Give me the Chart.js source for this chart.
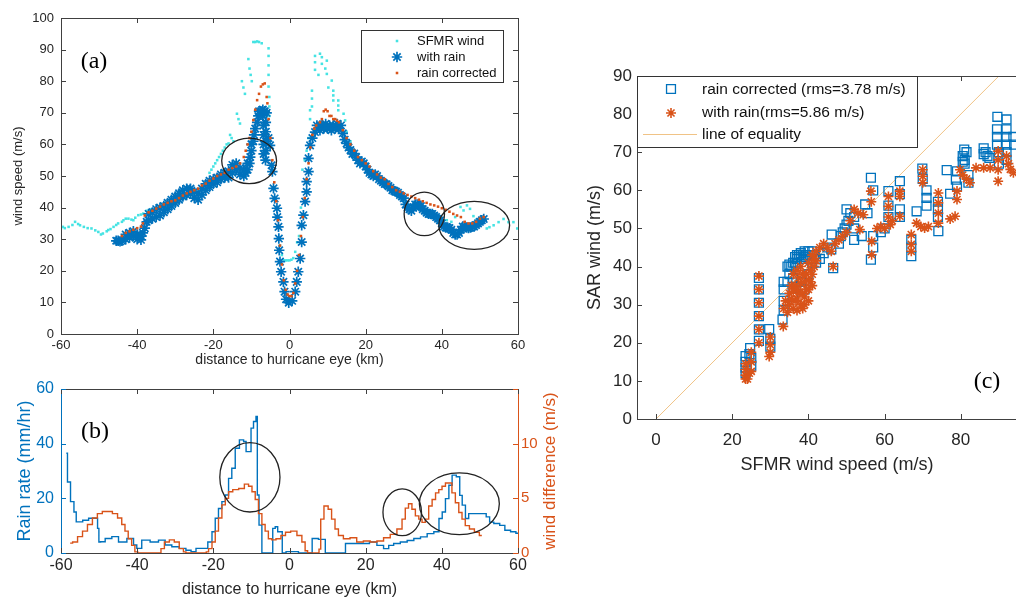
<!DOCTYPE html>
<html>
<head>
<meta charset="utf-8">
<title>SAR wind in rain</title>
<script src="https://cdn.jsdelivr.net/npm/chart.js@4.4.1/dist/chart.umd.min.js"></script>
<style>
  body { margin: 0; width: 1016px; height: 604px; overflow: hidden; background: #fff; position: relative; }
  canvas { position: absolute; }
</style>
</head>
<body>
<canvas id="chartA" width="530" height="370" style="left:0;top:0"></canvas>
<canvas id="chartB" width="565" height="234" style="left:0;top:370px"></canvas>
<canvas id="chartC" width="490" height="420" style="left:580px;top:60px"></canvas>
<script>
// ---- panel (a): wind speed along the track, [km, m/s]
var sfmrWind = [[-60,33.5],[-59.5,33.9],[-59,33.5],[-58,33.9],[-57,34.5],[-56.3,35.5],[-55.5,34.8],[-55,34.4],[-54,33.9],[-53,33.5],[-52,33.4],[-51,32.8],[-50.2,32.3],[-49.5,31.5],[-49,31.8],[-48,32.5],[-47.6,32.9],[-47,33.2],[-46.2,33.9],[-45.5,34.5],[-45,35],[-44,35.5],[-43.6,36],[-43,36.5],[-42.3,36.5],[-41.5,36.2],[-41,36],[-40.5,36.8],[-39.7,37.6],[-39,37.8],[-38.4,38.1],[-37.5,39],[-36.5,39.5],[-35,40],[-34,40.5],[-33,41],[-32,41.3],[-31,41.5],[-30,42],[-29,42.5],[-28,43],[-27,43.5],[-26,44],[-25,44.5],[-24,45],[-23,46.5],[-22,48],[-21,51],[-20.5,52],[-20,53],[-19.5,54],[-19,55],[-18.5,56],[-18,57],[-17.5,58],[-17,59],[-16.5,60],[-16,60.3],[-15.6,63],[-15.2,62],[-14.7,61],[-13.8,69.7],[-13.4,68],[-13,66.6],[-12.5,80],[-12.1,78],[-11.7,76],[-10.8,87],[-10.5,84],[-10.2,82],[-9.9,80],[-9.5,92.4],[-9,92.4],[-8.5,92.6],[-8,92.4],[-7.3,92],[-5.5,90.4],[-5.5,88],[-5.5,85],[-5.5,82],[-5.5,78.3],[-5.3,75],[-5.3,72],[-5.3,69],[-5,60],[-4.5,52],[-4,46],[-3.5,40],[-3,34],[-2.5,28],[-2,25],[-1.5,23.3],[-1,23.3],[-0.5,23.3],[0,23.3],[0.5,23.5],[1,24],[1.5,26],[2,29],[2.5,31],[3,40],[3.4,52],[4,55],[4.5,58],[5,62],[5.4,68],[5.4,70.8],[5.9,72],[5.9,74.5],[5.9,77],[6.7,83.6],[6.7,86],[6.7,88],[7.6,82],[8,88.7],[8.5,87.6],[8.5,85.5],[9.4,84],[9.8,86.5],[9.8,82.3],[10.2,78],[11.1,80.2],[11.5,77],[11.5,75.5],[11.5,73.9],[12.8,73.9],[12.8,72.3],[12.8,70.8],[14.2,69.7],[14.6,67.6],[15,64],[16,61],[17,58],[18,56],[19,54],[20,52.5],[21,51],[22,50],[23,49],[24,48],[25,47],[26,46],[27,45],[28,44],[29,43],[30,42],[31,41],[32,40.5],[33,40],[34,39.5],[35,39],[36,38.5],[37,38],[38,37.5],[39,37],[40,36.5],[41.3,36],[41.3,34],[42.5,35.5],[43.5,37],[44.9,40.2],[45.7,39.1],[46.6,40.7],[47.4,39.6],[48.3,37.3],[49.2,36.3],[50.5,35],[51.8,33.4],[52.5,33.8],[53.6,34.4],[54.9,35.4],[56.2,36.4],[57.5,35.4],[58.8,35.4],[59.8,33.4]];

var withRainA = [[-45.5,29.5],[-45,29.5],[-44.5,29.3],[-44,29.5],[-43,30],[-43,31.5],[-42,30.5],[-42,32],[-41,31],[-41,32.5],[-40,30],[-40,31.5],[-39,29.8],[-39,31],[-38.5,32],[-38,33.5],[-37.5,35.5],[-37,36],[-37,38],[-36,36.5],[-36,38.5],[-35,37],[-35,39.5],[-34,37.5],[-34,40],[-33,38.5],[-33,40.5],[-32,39.5],[-32,41.5],[-31,40.5],[-31,42.5],[-30,41.5],[-30,43.5],[-29,42.5],[-29,44.5],[-28,43.5],[-28,45.5],[-27,44],[-27,46],[-26,44.5],[-26,46],[-25,43],[-25,45],[-24,42.5],[-24,44.5],[-23,44],[-23,46],[-22,45.5],[-22,47.5],[-21,46.5],[-21,48.5],[-20,47.5],[-20,49],[-19,48],[-19,49.5],[-18,49],[-18,50.5],[-17,49.5],[-17,51],[-16,49.5],[-16,51.5],[-15,51],[-15,53.5],[-14,52],[-14,54],[-13,50.5],[-13,52.5],[-12,50],[-12,52],[-11.5,51],[-11,52],[-11,54],[-10.5,54],[-10.3,56],[-10,58],[-10,60],[-9.5,61],[-9.3,63],[-9,65],[-8.5,67],[-8.2,69],[-8,70.5],[-7.5,70.5],[-7,71],[-7,69],[-6.8,66],[-6.8,63],[-6.8,60],[-6.8,57],[-6.5,70.5],[-6.3,55],[-6.2,58],[-6.2,61],[-6.2,64],[-6.2,67],[-6,70],[-5.5,62],[-5.1,59.7],[-4.7,53.4],[-4.5,51.4],[-4.2,46.1],[-3.9,42.9],[-3.3,39.8],[-3.2,37],[-2.9,33.9],[-2.8,30.2],[-2.7,26.5],[-2.5,22.9],[-2.2,19.7],[-1.6,16.5],[-1.3,13.4],[-0.9,11],[-0.2,9.9],[0.7,10.5],[1.5,13.4],[1.9,16.5],[2.3,19.7],[2.8,23.9],[3.2,29.1],[3.2,34.4],[3.65,37.6],[4.1,41.9],[4.5,45],[4.5,48.2],[5,51.4],[5,55.6],[5.4,59.7],[6,62],[6.7,63.9],[7.2,66],[8,66],[8,64.5],[8.5,66],[9,65],[9.5,66.5],[10,65],[10.5,66],[11,64.5],[11.5,66],[12,65],[12.5,66.5],[13,65],[13.5,66],[14,63.5],[14.5,61.5],[15,60.3],[15.5,59],[16,58.2],[16.5,57],[17,57.1],[17.5,56],[18,55],[18.5,54],[19,54.6],[19.5,54],[20,53],[20.5,52],[21,51],[21.5,50.5],[22,50],[22.5,50.5],[23,50],[23.5,49],[24,48.5],[24.5,48],[25,47.5],[25.5,47.4],[26,46.8],[26.5,46.3],[27,45.5],[27.5,45.3],[28,45],[28.5,44.7],[29,44],[29.5,43.5],[30,43],[30.5,41],[31,40],[31.5,39.5],[32,39],[32.5,40],[33,41],[33.5,41],[34,40.5],[34.5,40.5],[35,39.5],[35.5,39],[36,38.4],[36.5,38],[37,38],[37.5,38],[38,37.5],[38.5,37],[39,36.5],[39.5,36],[40,35],[40.5,34],[41,33.7],[41.5,33.7],[42,33.5],[42.5,33],[43,32],[43.5,31.5],[44,31.5],[44.5,32],[45,33],[45.5,34],[46,34],[46.5,33.7],[47,33.5],[47.5,33.7],[48,34],[48.5,34],[49,34.5],[49.5,35],[50,35.5],[50.5,36],[51,36.4]];

var rainCorrectedA = [[-44,31],[-43,32],[-42,32.5],[-41,33],[-40,33.5],[-39,34],[-38.5,35],[-38,37.5],[-37,38.5],[-36,39],[-35,39.7],[-34,40.3],[-33,41],[-32,41.5],[-31,42],[-30,42.3],[-29,43],[-28,43.8],[-27,44.5],[-26,45],[-25,45.5],[-24,46],[-23,47],[-22,47.6],[-21,48.5],[-20,49.2],[-19,50],[-18,50.5],[-17,51],[-16,52],[-15,52.5],[-14,53],[-13,54],[-12,56],[-11.5,58],[-11,60],[-10.5,62],[-10,64],[-9.5,67.7],[-9,71],[-8.5,74],[-8,76],[-7.5,78.3],[-7,79],[-6.5,79.3],[-6,75],[-5.8,73],[-5.5,68],[-5,62],[-4.5,55],[-4,48],[-3.5,42],[-3,36],[-2.5,28],[-2,22],[-1.5,17],[-1,14],[-0.5,12.5],[0,12],[0.5,12],[1,13],[1.5,16],[2,20],[2.5,25],[3,31],[3.5,37],[4,43],[4.5,49],[5,54],[5.5,59],[6,63],[6.5,65],[7,66],[8,67],[8.5,68],[9,70.5],[9.5,71],[10,70.5],[10.5,69],[11,69],[11.5,68],[12,68],[12.5,67.5],[13,67],[14,64.5],[15,62],[16,60],[17,58],[18,56],[19,55],[20,54],[21,53],[22,51.5],[23,50.5],[24,49.5],[25,49],[26,47.5],[27,46.5],[28,45.5],[29,45],[30,44.5],[31,44],[32,43.5],[33,43],[34,42.5],[35,42],[36,41.5],[37,41],[38,40.7],[39,40.3],[40,39.8],[41,39.3],[42,38.7],[43,38],[44,37.5],[45,37],[46,35.5],[47,35],[48,35],[49,35.5],[50,36.5],[51,37]];

// circled areas [centre km, centre value, half width km, half height value]
var ellipsesA = [[-10.6,54.8,7.2,7.2],[35.4,38.0,5.3,6.9],[48.5,34.4,9.3,7.6]];

// ---- panel (b): rain rate (mm/hr) and wind difference (m/s)
var rainRate = [[-60,40],[-59.9,32],[-59.6,null],[-58.6,36.5],[-58,26],[-57,18.8],[-56.2,15],[-55.8,11.4],[-55,11.4],[-53.6,12],[-51.9,12.7],[-50.6,12.7],[-50.2,9],[-49.9,4],[-49.3,4.1],[-47.5,5.3],[-45.8,6],[-44,4],[-41.4,5.3],[-40.5,2.9],[-39.7,1.7],[-37.9,4.7],[-35.3,4],[-33.5,4.7],[-31.8,2.9],[-30,2.3],[-27.9,1.7],[-26.5,1],[-25.2,0.5],[-23.9,1.7],[-22.1,1.7],[-20.8,4],[-19.9,7.8],[-19.1,12.7],[-18.2,16.3],[-17.3,18.8],[-16.4,21.2],[-15.6,27.3],[-14.7,31],[-13.8,38.3],[-12.5,41.4],[-11.6,40.8],[-11.2,37.1],[-10.3,37.1],[-9.9,45.7],[-9,48.1],[-8.6,50],[-8.3,21.2],[-7.7,10.2],[-6.8,0],[-4.6,0],[-4.2,9],[-3.3,9.6],[-2.9,7.8],[-2,7.8],[-1.8,0],[0,0.5],[4.7,0],[7.2,5.3],[8,5],[9.3,5],[9.5,0],[19.9,3.5],[22.1,4],[23.8,2.8],[25.6,1.6],[26.5,2.8],[28.2,3.5],[30,4],[31.8,4.6],[33.5,5.3],[35.3,5.9],[37,7.1],[38.8,7.8],[39.7,12.6],[40.5,15],[41.4,19.9],[42.3,24.8],[43.1,28.5],[44.5,27.9],[44.9,21.1],[45.8,17.5],[46.6,12.6],[47.5,14.4],[49.3,14.4],[51,14.4],[52.3,13.2],[52.8,11.3],[54.5,10.8],[55.9,10.1],[57.2,8.3],[58.9,7.8],[60,7.2]];

var windDiff = [[-57.6,0.9],[-56.3,1.0],[-55,1.5],[-53.7,2.0],[-52.4,2.6],[-51.1,3.2],[-49.8,3.6],[-48.5,3.8],[-47.2,3.8],[-45.8,3.6],[-44.5,3.2],[-43.6,2.6],[-42.8,2.0],[-41.9,1.3],[-41,0.7],[-40.2,0.1],[-39.5,0],[-34,0],[-33.5,0.4],[-32.2,1.0],[-30.9,1.2],[-29.6,1.0],[-28.3,0.4],[-27.4,0.1],[-27,0],[-22,0],[-21.7,0.1],[-20.8,0.4],[-19.9,1.0],[-19.1,2.0],[-18.2,3.2],[-17.3,4.4],[-16.4,5.0],[-15.6,5.6],[-14.2,5.8],[-12.5,5.9],[-11.2,6.3],[-10.3,6.1],[-9.4,5.6],[-8.6,4.9],[-7.7,3.6],[-6.8,2.6],[-6,2.0],[-5.1,1.3],[-4.2,1.2],[-2.9,1.3],[-1.6,1.6],[-0.5,1.9],[1.1,2.0],[2.8,1.6],[3.7,1.0],[4.5,0.2],[5,0],[7.5,0],[8,0.35],[8.4,3.1],[9.7,4.3],[10.6,4.0],[11.5,3.1],[12.4,2.2],[13.3,1.6],[15,1.3],[16.8,1.4],[18.5,1.0],[20.3,1.1],[22.1,1.0],[23.8,1.1],[25.6,1.4],[27.3,1.7],[29.1,2.2],[30,3.1],[30.8,4.1],[31.7,4.5],[32.6,4.0],[33.5,3.4],[34.4,3.1],[35.2,2.8],[36.1,3.1],[37,4.3],[37.9,4.9],[38.8,5.5],[39.6,5.8],[40.5,6.1],[41.4,6.4],[42.2,6.4],[43.1,5.5],[44,4.6],[44.9,3.7],[45.7,3.1],[46.6,2.5],[47.9,2.2],[49.2,1.9],[50.5,1.6]];

var ellipsesB = [[-10.4,27.7,7.9,12.7],[29.6,14.9,5.06,8.55],[44.6,18.0,10.5,11.3]];

// ---- panel (c): SFMR vs SAR wind, [SFMR m/s, SAR m/s]
var scatterCorrected = [[23.5,16.5],[23.5,15],[23.5,13.5],[23.5,12],[24.5,17],[24.7,18.6],[25,16],[25,14],[27,37],[27,34],[27,30.5],[27,27],[27,23.5],[27,20.5],[29.7,23.6],[30,21],[30,19],[33.5,36],[33.5,34],[33.5,31],[33.5,28.5],[33.2,26.1],[34.5,36],[34.5,40],[35,38],[35,40.5],[35.5,40],[36,37],[36,41],[36.5,41],[36.5,42.5],[37,42],[37,43],[37.5,43],[38,42],[38,43.5],[38.5,43],[39,44],[39,42.5],[39.5,43],[40,44],[40,43],[40.5,42],[41,41],[41,44],[41.5,43],[42,41],[42,42],[38,34],[39,34],[36,32],[38,36],[40,38],[43,42],[44,43.5],[45,45],[46,44.5],[46.5,39.6],[46.1,48.4],[48,46],[48.5,48],[49,49],[49.5,50],[50,51],[50.5,52],[50,55],[51,54],[52,53],[52,50],[52,47],[54,48],[54.9,56.3],[55.5,54],[56.4,63.3],[57,60],[57,48],[57,45],[56.4,41.8],[59,49],[60,50],[61,59.8],[61,56],[61,53],[64,62.4],[64,59],[64,55],[64,53],[67,47],[67,45],[67,42.7],[68.4,54.5],[69.9,65.7],[70,63],[71,60],[71,58],[71,56],[74,57],[74,55],[74,53],[74.1,49.3],[76.3,65.3],[77.2,59.1],[78.7,62.8],[79,65],[79,61],[80.9,70.7],[80.5,69],[81,68],[81,67],[81.5,70],[80.5,67.5],[82,64],[82,62],[86,71],[86.5,70],[87,69],[87.5,68.5],[86,69.5],[89.6,79.3],[89.5,76],[89.5,74],[89.5,72],[90,70],[90,67],[92,78.6],[92,76],[92,74],[92,72],[92,70],[92,68],[93.8,74],[94,72]];

var scatterWithRain = [[23.5,10.5],[23.5,11.5],[23.5,13],[23.5,14.5],[24,10.5],[24.5,12],[25,15],[25,17.5],[25,12.5],[27,37.5],[27,34],[27,30.5],[27,27],[27,23.5],[27,20],[30,21.5],[30,19.5],[30,17.5],[29.7,16.4],[33.4,24.3],[33.5,29],[34,31],[34.5,28],[35,30],[35,33],[35.5,35],[35.5,31.5],[36,29],[36,38],[36,33.5],[36.5,31],[36.5,35],[37,34],[37,28.5],[37,39],[37,31.5],[37.5,37],[37.5,33],[38,30],[38,40],[38,35.5],[38.5,33],[38.5,29],[38.5,38],[39,32],[39,36],[39,30],[39.5,38],[39.5,34],[40,31],[40,34],[40,41],[40,36.5],[40.5,36],[40.5,39],[41,38],[41,43],[41,35],[41.5,42],[41.5,40],[42,44],[42,41.5],[43,45],[44,46],[45,45],[46,44],[46.5,40],[47,46],[48,47],[49,48],[50,49],[51,52],[52,55],[53,54],[53.5,49.7],[54.4,53.6],[56.4,59.8],[56.5,57],[56.6,46.6],[56.6,43.1],[58,50],[59,50.5],[60,50],[61.5,51],[62,52],[61,58.4],[61,55.8],[61,53],[64,59.8],[64,58.4],[64,53.2],[67,48.4],[67,45.8],[67,44],[68.4,51.4],[69.5,50.5],[70.5,50.1],[71.5,50.5],[70,65.4],[70,63.7],[70,62],[74.1,59.3],[74.1,56.7],[74.1,54],[74.1,51.4],[77.2,52.5],[78.5,53.2],[79,57.6],[79,59.8],[79.8,65.4],[80.5,64],[81.5,63],[82.4,62],[84,65.9],[86,65.9],[87.7,65.9],[89.8,62.4],[89.8,65.4],[89.8,68],[89.8,70.3],[92,69],[92.5,67],[93,65.5],[93.8,64.6]];

var equalityLine = [[0,0],[100,100]];

var xTicksTrack = [-60,-40,-20,0,20,40,60];
var xTicksScatter = [0,20,40,60,80,100];

// ------------------------------------------------------------------
var BLUE = '#0072BD', ORANGE = '#D95319', CYAN = '#45E3E3', AXIS = '#404040';
Chart.defaults.font.family = '"Liberation Sans", Arial, sans-serif';
Chart.defaults.color = '#262626';
Chart.defaults.animation = false;

function toXY(arr) { return arr.map(function (p) { return { x: p[0], y: p[1] }; }); }
function fixedTicks(list) { return function (s) { s.ticks = list.map(function (v) { return { value: v }; }); }; }
function fixWidth(w) { return function (s) { s.width = w; }; }
function fixHeight(h) { return function (s) { s.height = h; }; }

function drawEllipses(ctx, xs, ys, list) {
  ctx.strokeStyle = '#222';
  ctx.lineWidth = 1.3;
  list.forEach(function (e) {
    var cx = xs.getPixelForValue(e[0]), cy = ys.getPixelForValue(e[1]);
    var rx = Math.abs(xs.getPixelForValue(e[0] + e[2]) - cx);
    var ry = Math.abs(ys.getPixelForValue(e[1] + e[3]) - cy);
    ctx.beginPath();
    ctx.ellipse(cx, cy, rx, ry, 0, 0, Math.PI * 2);
    ctx.stroke();
  });
}

// box round the plot with ticks pointing inward (matlab look)
function drawSide(ctx, color, x1, y1, x2, y2) {
  ctx.strokeStyle = color;
  ctx.beginPath(); ctx.moveTo(x1, y1); ctx.lineTo(x2, y2); ctx.stroke();
}
function xTickMarks(ctx, xs, a, color, top, bottom) {
  ctx.strokeStyle = color;
  xs.ticks.forEach(function (t) {
    var px = Math.round(xs.getPixelForValue(t.value)) + 0.5;
    ctx.beginPath();
    if (bottom) { ctx.moveTo(px, a.bottom); ctx.lineTo(px, a.bottom - 5); }
    if (top) { ctx.moveTo(px, a.top); ctx.lineTo(px, a.top + 5); }
    ctx.stroke();
  });
}
function yTickMarks(ctx, ys, a, color, left, right) {
  ctx.strokeStyle = color;
  ys.ticks.forEach(function (t) {
    var py = Math.round(ys.getPixelForValue(t.value)) + 0.5;
    ctx.beginPath();
    if (left) { ctx.moveTo(a.left, py); ctx.lineTo(a.left + 5, py); }
    if (right) { ctx.moveTo(a.right, py); ctx.lineTo(a.right - 5, py); }
    ctx.stroke();
  });
}

function panelLabel(ctx, text, x, y) {
  ctx.fillStyle = '#000';
  ctx.font = '24px "Liberation Serif", "Times New Roman", serif';
  ctx.textAlign = 'center';
  ctx.textBaseline = 'middle';
  ctx.fillText(text, x, y);
}

function legendMarker(ctx, style, radius, color, fill, x, y, bw) {
  ctx.strokeStyle = color;
  ctx.fillStyle = fill;
  ctx.lineWidth = bw;
  Chart.helpers.drawPoint(ctx, { pointStyle: style, radius: radius, rotation: 0, borderWidth: bw }, x, y);
}

// ---------------- panel (a)
new Chart(document.getElementById('chartA'), {
  type: 'scatter',
  data: {
    datasets: [
      { label: 'SFMR wind', data: toXY(sfmrWind), order: 2, pointStyle: 'rect', pointRadius: 1.8,
        backgroundColor: CYAN, borderColor: CYAN, borderWidth: 0 },
      { label: 'with rain', data: toXY(withRainA), order: 1, pointStyle: 'star', pointRadius: 5.2,
        borderColor: BLUE, backgroundColor: BLUE, borderWidth: 1.7 },
      { label: 'rain corrected', data: toXY(rainCorrectedA), order: 0, pointStyle: 'rect', pointRadius: 1.8,
        backgroundColor: ORANGE, borderColor: ORANGE, borderWidth: 0 }
    ]
  },
  options: {
    responsive: false, devicePixelRatio: 1,
    layout: { padding: { top: 18, right: 12, left: 0, bottom: 0 } },
    plugins: { legend: { display: false }, tooltip: { enabled: false } },
    scales: {
      x: {
        type: 'linear', min: -60, max: 60,
        afterBuildTicks: fixedTicks(xTicksTrack),
        afterFit: fixHeight(36),
        grid: { display: false, drawTicks: false }, border: { display: false },
        ticks: { font: { size: 13 }, padding: 4, maxRotation: 0, autoSkip: false },
        title: { display: true, text: 'distance to hurricane eye (km)', font: { size: 14 }, padding: { top: 0, bottom: 1 } }
      },
      y: {
        min: 0, max: 100,
        afterFit: fixWidth(61),
        grid: { display: false, drawTicks: false }, border: { display: false },
        ticks: { stepSize: 10, font: { size: 13 }, padding: 7 },
        title: { display: true, text: 'wind speed (m/s)', font: { size: 13 }, padding: { top: 10.5, bottom: 0 } }
      }
    }
  },
  plugins: [{
    id: 'decorA',
    afterDatasetsDraw: function (chart) {
      var ctx = chart.ctx, a = chart.chartArea, xs = chart.scales.x, ys = chart.scales.y;
      ctx.save();
      drawEllipses(ctx, xs, ys, ellipsesA);
      ctx.lineWidth = 1;
      ctx.strokeStyle = AXIS;
      ctx.strokeRect(Math.round(a.left) + 0.5, Math.round(a.top) + 0.5, Math.round(a.right - a.left), Math.round(a.bottom - a.top));
      xTickMarks(ctx, xs, a, AXIS, true, true);
      yTickMarks(ctx, ys, a, AXIS, true, true);
      // legend
      ctx.fillStyle = '#fff';
      ctx.fillRect(361, 30, 143, 53);
      ctx.strokeStyle = '#333';
      ctx.lineWidth = 1;
      ctx.strokeRect(361.5, 30.5, 142, 52);
      legendMarker(ctx, 'rect', 1.8, CYAN, CYAN, 397, 41, 0);
      legendMarker(ctx, 'star', 5.2, BLUE, BLUE, 397, 57, 1.7);
      legendMarker(ctx, 'rect', 1.8, ORANGE, ORANGE, 397, 73, 0);
      ctx.fillStyle = '#111';
      ctx.font = '13px "Liberation Sans", Arial, sans-serif';
      ctx.textAlign = 'left'; ctx.textBaseline = 'middle';
      ctx.fillText('SFMR wind', 417, 41);
      ctx.fillText('with rain', 417, 57);
      ctx.fillText('rain corrected', 417, 73);
      panelLabel(ctx, '(a)', 94, 62);
      ctx.restore();
    }
  }]
});

// ---------------- panel (b)
new Chart(document.getElementById('chartB'), {
  type: 'line',
  data: {
    datasets: [
      { label: 'rain rate', data: toXY(rainRate), yAxisID: 'y', order: 1, stepped: 'middle',
        borderColor: BLUE, borderWidth: 1.4, pointRadius: 0, spanGaps: false, fill: false },
      { label: 'wind difference', data: toXY(windDiff), yAxisID: 'y2', order: 0, stepped: 'middle',
        borderColor: ORANGE, borderWidth: 1.4, pointRadius: 0, fill: false }
    ]
  },
  options: {
    responsive: false, devicePixelRatio: 1,
    layout: { padding: { top: 19, right: 0, left: 0, bottom: 0 } },
    plugins: { legend: { display: false }, tooltip: { enabled: false } },
    scales: {
      x: {
        type: 'linear', min: -60, max: 60,
        afterBuildTicks: fixedTicks(xTicksTrack),
        afterFit: fixHeight(51),
        grid: { display: false, drawTicks: false }, border: { display: false },
        ticks: { font: { size: 16 }, padding: 3, maxRotation: 0, autoSkip: false },
        title: { display: true, text: 'distance to hurricane eye (km)', font: { size: 16 }, padding: { top: 0, bottom: 4.5 } }
      },
      y: {
        position: 'left', min: 0, max: 60,
        afterFit: fixWidth(61),
        grid: { display: false, drawTicks: false }, border: { display: false },
        ticks: { stepSize: 20, font: { size: 16 }, padding: 7, color: BLUE },
        title: { display: true, text: 'Rain rate (mm/hr)', color: BLUE, font: { size: 18 }, padding: { top: 14.5, bottom: 0 } }
      },
      y2: {
        position: 'right', min: 0, max: 15,
        afterFit: fixWidth(47),
        grid: { display: false, drawTicks: false }, border: { display: false },
        ticks: { stepSize: 5, font: { size: 15 }, padding: 3, color: ORANGE,
          callback: function (v) { return v === 15 ? '' : v; } }
      }
    }
  },
  plugins: [{
    id: 'decorB',
    afterDatasetsDraw: function (chart) {
      var ctx = chart.ctx, a = chart.chartArea, xs = chart.scales.x, ys = chart.scales.y, y2 = chart.scales.y2;
      ctx.save();
      drawEllipses(ctx, xs, ys, ellipsesB);
      ctx.lineWidth = 1;
      var l = Math.round(a.left) + 0.5, r = Math.round(a.right) + 0.5, t = Math.round(a.top) + 0.5, b = Math.round(a.bottom) + 0.5;
      drawSide(ctx, AXIS, l, t, r, t);
      drawSide(ctx, AXIS, l, b, r, b);
      drawSide(ctx, BLUE, l, t, l, b);
      drawSide(ctx, ORANGE, r, t, r, b);
      xTickMarks(ctx, xs, a, AXIS, true, true);
      yTickMarks(ctx, ys, a, BLUE, true, false);
      yTickMarks(ctx, y2, a, ORANGE, false, true);
      // right axis title reads bottom to top
      ctx.save();
      ctx.translate(550, (a.top + a.bottom) / 2);
      ctx.rotate(-Math.PI / 2);
      ctx.fillStyle = ORANGE;
      ctx.font = '17px "Liberation Sans", Arial, sans-serif';
      ctx.textAlign = 'center'; ctx.textBaseline = 'middle';
      ctx.fillText('wind difference (m/s)', 0, 0);
      ctx.restore();
      panelLabel(ctx, '(b)', 95, 62);
      ctx.restore();
    }
  }]
});

// ---------------- panel (c)
new Chart(document.getElementById('chartC'), {
  type: 'scatter',
  data: {
    datasets: [
      { label: 'with rain(rms=5.86 m/s)', data: toXY(scatterWithRain), order: 0, pointStyle: 'star', pointRadius: 5,
        borderColor: ORANGE, backgroundColor: ORANGE, borderWidth: 1.6 },
      { label: 'rain corrected (rms=3.78 m/s)', data: toXY(scatterCorrected), order: 1, pointStyle: 'rect', pointRadius: 6.3,
        borderColor: BLUE, backgroundColor: 'rgba(0,0,0,0)', borderWidth: 1.3 },
      { label: 'line of equality', type: 'line', data: toXY(equalityLine), order: 2,
        borderColor: '#F0C386', borderWidth: 1, pointRadius: 0, fill: false }
    ]
  },
  options: {
    responsive: false, devicePixelRatio: 1,
    layout: { padding: { top: 16, right: 33, left: 0, bottom: 0 } },
    plugins: { legend: { display: false }, tooltip: { enabled: false } },
    scales: {
      x: {
        type: 'linear', min: -5, max: 100,
        afterBuildTicks: fixedTicks(xTicksScatter),
        afterFit: fixHeight(61),
        grid: { display: false, drawTicks: false }, border: { display: false },
        ticks: { font: { size: 17 }, padding: 11, maxRotation: 0, autoSkip: false },
        title: { display: true, text: 'SFMR wind speed (m/s)', font: { size: 18 }, padding: { top: 0, bottom: 4 } }
      },
      y: {
        min: 0, max: 90,
        afterFit: fixWidth(57),
        grid: { display: false, drawTicks: false }, border: { display: false },
        ticks: { stepSize: 10, font: { size: 17 }, padding: 5 },
        title: { display: true, text: 'SAR wind (m/s)', font: { size: 18 }, padding: { top: 4, bottom: 0 } }
      }
    }
  },
  plugins: [{
    id: 'decorC',
    afterDatasetsDraw: function (chart) {
      var ctx = chart.ctx, a = chart.chartArea, xs = chart.scales.x, ys = chart.scales.y;
      ctx.save();
      ctx.lineWidth = 1;
      ctx.strokeStyle = AXIS;
      ctx.strokeRect(Math.round(a.left) + 0.5, Math.round(a.top) + 0.5, Math.round(a.right - a.left), Math.round(a.bottom - a.top));
      xTickMarks(ctx, xs, a, AXIS, true, true);
      yTickMarks(ctx, ys, a, AXIS, true, true);
      // legend
      ctx.fillStyle = '#fff';
      ctx.fillRect(a.left + 1, a.top + 1, 280, 71);
      ctx.strokeStyle = '#333';
      ctx.strokeRect(Math.round(a.left) + 0.5, Math.round(a.top) + 0.5, 280, 71);
      legendMarker(ctx, 'rect', 6.3, BLUE, 'rgba(0,0,0,0)', 91, 29, 1.3);
      legendMarker(ctx, 'star', 5, ORANGE, ORANGE, 91, 53, 1.6);
      ctx.strokeStyle = '#F0C386';
      ctx.lineWidth = 1;
      ctx.beginPath(); ctx.moveTo(63, 74.5); ctx.lineTo(117, 74.5); ctx.stroke();
      ctx.fillStyle = '#111';
      ctx.font = '15.5px "Liberation Sans", Arial, sans-serif';
      ctx.textAlign = 'left'; ctx.textBaseline = 'middle';
      ctx.fillText('rain corrected (rms=3.78 m/s)', 122, 30);
      ctx.fillText('with rain(rms=5.86 m/s)', 122, 53);
      ctx.fillText('line of equality', 122, 75);
      panelLabel(ctx, '(c)', 407, 322);
      ctx.restore();
    }
  }]
});
</script>
</body>
</html>
